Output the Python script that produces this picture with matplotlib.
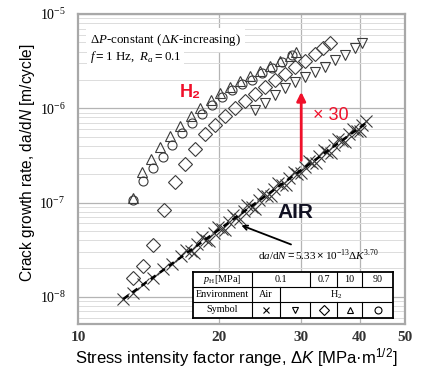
import numpy as np
import matplotlib
matplotlib.use("Agg")
import matplotlib.pyplot as plt
from matplotlib.ticker import FixedLocator, FixedFormatter, NullFormatter, LogLocator

plt.rcParams['font.family'] = ['Liberation Sans', 'DejaVu Sans']
plt.rcParams['mathtext.fontset'] = 'custom'
plt.rcParams['mathtext.rm'] = 'Liberation Sans'
plt.rcParams['mathtext.it'] = 'Liberation Sans:italic'
plt.rcParams['mathtext.sf'] = 'Liberation Serif'          # serif upright
plt.rcParams['mathtext.tt'] = 'Liberation Serif:italic'   # serif italic
plt.rcParams['mathtext.bf'] = 'Liberation Sans:bold'

# air, 0.1 MPa (two runs, crosses)
dk_air_a = [12.5, 13.1, 13.8, 14.5, 15.2, 15.9, 16.6, 17.4, 18.0, 18.8, 19.5, 20.3, 21.0, 21.8, 22.6,
            23.5, 24.4, 25.3, 26.3, 27.3, 28.3, 29.4, 30.5, 31.6, 32.8, 34.0, 35.3, 36.6, 38.0, 39.4, 40.5]
dadn_air_a = [9.5e-9, 1.10e-8, 1.38e-8, 1.60e-8, 1.95e-8, 2.22e-8, 2.68e-8, 3.05e-8, 3.60e-8, 4.05e-8,
              4.80e-8, 5.30e-8, 6.25e-8, 6.90e-8, 8.15e-8, 9.0e-8, 1.07e-7, 1.18e-7, 1.40e-7, 1.55e-7,
              1.83e-7, 2.02e-7, 2.40e-7, 2.62e-7, 3.10e-7, 3.42e-7, 4.05e-7, 4.45e-7, 5.28e-7, 5.80e-7, 6.6e-7]
dk_air_b = [17.0, 17.7, 18.4, 19.1, 19.9, 20.6, 21.4, 22.2, 23.0, 23.9, 24.8, 25.8, 26.8, 27.8, 28.9,
            30.0, 31.1, 32.3, 33.5, 34.7, 36.0, 37.3, 38.7, 40.1, 41.2]
dadn_air_b = [3.15e-8, 2.92e-8, 4.28e-8, 3.93e-8, 5.57e-8, 5.16e-8, 7.36e-8, 6.75e-8, 9.37e-8, 8.6e-8,
              1.23e-7, 1.16e-7, 1.63e-7, 1.52e-7, 2.13e-7, 2.04e-7, 2.78e-7, 2.61e-7, 3.63e-7, 3.37e-7,
              4.7e-7, 4.37e-7, 6.1e-7, 5.8e-7, 7.3e-7]

# H2 0.1 MPa (down triangles)
dk_01 = [23.9, 25.1, 26.4, 27.7, 29.1, 30.6, 32.1, 33.7, 35.4, 37.2, 39.1, 40.5]
dadn_01 = [9.6e-7, 1.14e-6, 1.38e-6, 1.64e-6, 1.90e-6, 2.15e-6, 2.43e-6, 2.74e-6, 3.25e-6, 3.67e-6,
           4.36e-6, 4.93e-6]

# H2 0.7 MPa (diamonds)
dk_07 = [13.1, 13.8, 14.5, 15.3, 16.1, 16.9, 17.8, 18.7, 19.6, 20.6, 21.7, 22.7, 23.9, 25.1, 26.4,
         27.7, 29.1, 30.6, 32.1, 33.4, 34.6]
dadn_07 = [1.59e-8, 2.13e-8, 3.55e-8, 8.3e-8, 1.65e-7, 2.57e-7, 3.70e-7, 5.34e-7, 6.65e-7, 8.29e-7,
           1.01e-6, 1.20e-6, 1.42e-6, 1.68e-6, 2.0e-6, 2.31e-6, 2.74e-6, 3.17e-6, 3.77e-6, 4.36e-6, 4.93e-6]

# H2 10 MPa (up triangles)
dk_10 = [13.1, 13.7, 14.3, 15.0, 15.7, 16.5, 17.4, 18.2, 19.2, 20.1, 21.1, 22.2, 23.3, 24.5, 25.7,
         27.0, 28.4, 29.2]
dadn_10 = [1.12e-7, 2.11e-7, 2.90e-7, 3.89e-7, 5.08e-7, 6.49e-7, 8.29e-7, 1.0e-6, 1.22e-6, 1.45e-6,
           1.68e-6, 1.95e-6, 2.20e-6, 2.49e-6, 2.81e-6, 3.17e-6, 3.59e-6, 3.95e-6]

# H2 90 MPa (circles)
dk_90 = [13.1, 13.8, 14.5, 15.2, 15.9, 16.7, 17.5, 18.4, 19.3, 20.3, 21.3, 22.4, 23.5, 24.7, 26.0,
         27.3, 28.7]
dadn_90 = [1.07e-7, 1.69e-7, 2.33e-7, 3.05e-7, 4.08e-7, 5.47e-7, 6.98e-7, 8.70e-7, 1.08e-6, 1.32e-6,
           1.56e-6, 1.81e-6, 2.0e-6, 2.37e-6, 2.68e-6, 3.10e-6, 3.67e-6]

y_ticks = [1e-8, 1e-7, 1e-6, 1e-5]
y_labels = [r'$\mathsf{10^{-8}}$', r'$\mathsf{10^{-7}}$', r'$\mathsf{10^{-6}}$', r'$\mathsf{10^{-5}}$']
x_ticks = [10, 20, 30, 40, 50]

table_rows = [
    [r'$\mathtt{p}_\mathsf{H}\mathsf{[MPa]}$', '0.1', '0.7', '10', '90'],
    ['Environment', 'Air', r'$\mathsf{H_2}$'],
    ['Symbol'],
]

edge = '#3a3a3a'
mk = dict(linestyle='none', markerfacecolor='none', markeredgecolor=edge, markeredgewidth=0.8)

fig = plt.figure(figsize=(4.30, 3.69), dpi=100)
ax = fig.add_axes([78 / 430, 1 - 324 / 369, 327 / 430, 310 / 369])
ax.set_xscale('log')
ax.set_yscale('log')
ax.set_xlim(10, 50)
ax.set_ylim(5.15e-9, 1e-5)

# grid
ax.yaxis.set_major_locator(FixedLocator(y_ticks))
ax.yaxis.set_major_formatter(FixedFormatter(y_labels))
ax.yaxis.set_minor_locator(LogLocator(base=10, subs=np.arange(2, 10)))
ax.yaxis.set_minor_formatter(NullFormatter())
ax.xaxis.set_major_locator(FixedLocator(x_ticks))
ax.xaxis.set_major_formatter(FixedFormatter([str(v) for v in x_ticks]))
ax.xaxis.set_minor_locator(FixedLocator([]))
ax.grid(True, which='major', axis='y', color='#b4b4b4', lw=0.9)
ax.grid(True, which='minor', axis='y', color='#dcdcdc', lw=0.7)
for v in x_ticks[1:-1]:
    ax.axvline(v, color='#b4b4b4', lw=0.9, zorder=0.5)
ax.set_axisbelow(True)
ax.tick_params(which='both', length=0)
ax.tick_params(axis='y', pad=9, labelsize=10)
ax.tick_params(axis='x', pad=5)
for lab in ax.get_xticklabels():
    lab.set_family('Liberation Serif')
    lab.set_fontsize(11)
    lab.set_fontweight('bold')
    lab.set_color('#333333')
for s in ax.spines.values():
    s.set_color('#a8a8a8')
    s.set_linewidth(1.6)

# data
ax.plot(dk_air_a, dadn_air_a, marker='x', markersize=8, **mk)
ax.plot(dk_air_b, dadn_air_b, marker='x', markersize=8, **mk)
all_dk = np.array(dk_air_a + dk_air_b)
all_da = np.array(dadn_air_a + dadn_air_b)
p = np.polyfit(np.log10(all_dk), np.log10(all_da), 1)
kk = np.array([min(all_dk), max(all_dk)])
ax.plot(kk, 10 ** np.polyval(p, np.log10(kk)), color='black', lw=1.8, ls=(0, (2.5, 2)))

ax.plot(dk_01, dadn_01, marker='v', markersize=7, **mk)
ax.plot(dk_07, dadn_07, marker='D', markersize=7, **mk)
ax.plot(dk_10, dadn_10, marker='^', markersize=7, **mk)
ax.plot(dk_90, dadn_90, marker='o', markersize=6.5, **mk)

# text
ax.text(0.037, 0.916, r'$\mathsf{\Delta}\mathtt{P}\mathsf{‐constant\ (\Delta}\mathtt{K}\mathsf{‐increasing)}$',
        transform=ax.transAxes, fontsize=9.3, va='center', ha='left',
        bbox=dict(facecolor='white', edgecolor='none', pad=3))
ax.text(0.037, 0.861, r'$\mathtt{f} = \mathsf{1\ Hz,}\ \mathtt{R}_\mathtt{a} = \mathsf{0.1}$',
        transform=ax.transAxes, fontsize=9.3, va='center', ha='left',
        bbox=dict(facecolor='white', edgecolor='none', pad=2))
ax.text(0.3425, 0.748, 'H₂', transform=ax.transAxes, fontsize=13, fontweight='bold',
        color='#f0102a', ha='center', va='center')
ax.text(0.774, 0.674, '× 30', transform=ax.transAxes, fontsize=13,
        color='#f0102a', ha='center', va='center')
ax.annotate('', xy=(30, 1.49e-6), xytext=(30, 2.8e-7),
            arrowprops=dict(arrowstyle='-|>', color='#f0102a', lw=2, mutation_scale=13,
                            shrinkA=0, shrinkB=0))
ax.text(0.664, 0.361, 'AIR', transform=ax.transAxes, fontsize=15, fontweight='bold',
        color='#111122', ha='center', va='center')
ax.annotate(r'$\mathsf{d}\mathtt{a}\mathsf{/d}\mathtt{N} = \mathsf{5.33}\times\mathsf{10^{-13}}\mathsf{\Delta}\mathtt{K}^{\mathsf{3.70}}$',
            xy=(22.2, 5.8e-8), xytext=(0.55, 0.223), textcoords='axes fraction',
            fontsize=8, ha='left', va='center',
            arrowprops=dict(arrowstyle='->', color='black', lw=1.3, shrinkA=0, shrinkB=1))

# table
tx = fig.add_axes([193 / 430, 1 - 318 / 369, 200 / 430, 46 / 369])
tx.set_xlim(0, 200)
tx.set_ylim(0, 46)
tx.set_facecolor('white')
tx.set_xticks([])
tx.set_yticks([])
for s in tx.spines.values():
    s.set_linewidth(1.3)
    s.set_color('black')
rows_y = [46, 31, 16, 0]
lw = 0.8
for yv in rows_y[1:-1]:
    tx.plot([0, 200], [yv, yv], color='black', lw=lw)
tx.plot([59, 59], [0, 46], color='black', lw=lw)
tx.plot([87, 87], [0, 31], color='black', lw=lw)
for c in [117, 144, 169]:
    tx.plot([c, c], [31, 46], color='black', lw=lw)
    tx.plot([c, c], [0, 16], color='black', lw=lw)
fs = 7.3
mid = lambda a, b: (a + b) / 2
ry = [mid(46, 31), mid(31, 16), mid(16, 0)]
tx.text(mid(0, 59), ry[0], table_rows[0][0], ha='center', va='center', fontsize=fs)
tx.text(mid(59, 117), ry[0], table_rows[0][1], ha='center', va='center', fontsize=fs, family='Liberation Serif')
for i, c in enumerate([(117, 144), (144, 169), (169, 200)]):
    tx.text(mid(*c), ry[0], table_rows[0][2 + i], ha='center', va='center', fontsize=fs, family='Liberation Serif')
tx.text(mid(0, 59), ry[1], table_rows[1][0], ha='center', va='center', fontsize=fs, family='Liberation Serif')
tx.text(mid(59, 87), ry[1], table_rows[1][1], ha='center', va='center', fontsize=fs, family='Liberation Serif')
tx.text(mid(87, 200), ry[1], table_rows[1][2], ha='center', va='center', fontsize=fs)
tx.text(mid(0, 59), ry[2], table_rows[2][0], ha='center', va='center', fontsize=fs, family='Liberation Serif')
sym = ['x', 'v', 'D', '^', 'o']
for m, c in zip(sym, [(59, 87), (87, 117), (117, 144), (144, 169), (169, 200)]):
    tx.plot([mid(*c)], [ry[2]], marker=m, markersize=5 if m != 'x' else 4, linestyle='none',
            markerfacecolor='none', markeredgecolor='black', markeredgewidth=0.8)

fig.text(28 / 430, 1 - 163 / 369, 'Crack growth rate, da/d$N$ [m/cycle]', rotation=90,
         ha='center', va='center', fontsize=11.2)
fig.text(236 / 430, 1 - 358 / 369, 'Stress intensity factor range, Δ$K$ [MPa·m$^{\\mathrm{1/2}}$]',
         ha='center', va='center', fontsize=12)

fig.savefig('out.png', dpi=100)
